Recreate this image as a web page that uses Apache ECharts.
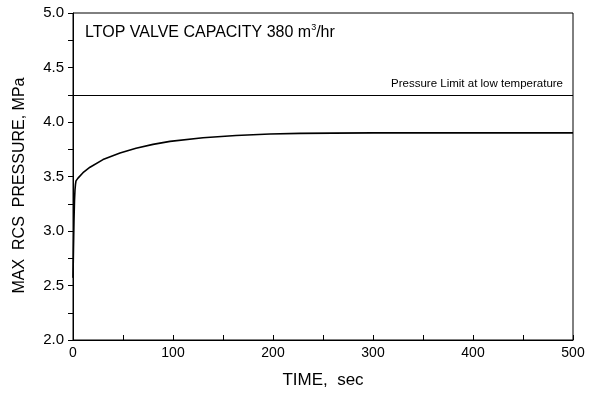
<!DOCTYPE html>
<html><head><meta charset="utf-8">
<script src="https://cdn.jsdelivr.net/npm/echarts@6/dist/echarts.min.js"></script>
<style>html,body{margin:0;padding:0;background:#fff}#c{width:599px;height:394px}</style>
</head><body><div id="c"></div>
<script>
var timeSec = [0, 0.5, 1, 1.5, 2, 2.5, 3, 4, 5, 10, 17, 30, 47, 63, 80, 97, 130, 163, 197, 227, 260, 300, 400, 500];
var maxPressure = [2.57, 2.85, 3.1, 3.28, 3.38, 3.43, 3.46, 3.475, 3.485, 3.535, 3.585, 3.655, 3.715, 3.76, 3.795, 3.822, 3.855, 3.876, 3.89, 3.896, 3.898, 3.9, 3.9, 3.9];
var pressureLimit = 4.25;
var limitLabel = 'Pressure Limit at low temperature';
var xTicks = [0, 100, 200, 300, 400, 500];
var yTicks = [2.0, 2.5, 3.0, 3.5, 4.0, 4.5, 5.0];

var font = 'Arial, "Liberation Sans", sans-serif';
var chart = echarts.init(document.getElementById('c'));
chart.setOption({
  animation: false,
  backgroundColor: '#fff',
  title: {
    left: 80, top: 18,
    text: '{a|LTOP VALVE CAPACITY 380 m}{s|3}{a|/hr}',
    textStyle: {
      rich: {
        a: {fontFamily: font, fontSize: 16, fontWeight: 'normal', color: '#000'},
        s: {fontFamily: font, fontSize: 9, fontWeight: 'normal', color: '#000', verticalAlign: 'top', padding: [0, 0, 10, 0]}
      }
    }
  },
  grid: {left: 73, right: 26, top: 13, bottom: 51, show: true, borderColor: '#000', borderWidth: 1, backgroundColor: 'transparent'},
  xAxis: {
    type: 'value', min: xTicks[0], max: xTicks[xTicks.length - 1], interval: 100,
    name: 'TIME,  sec', nameLocation: 'middle', nameGap: 32,
    nameTextStyle: {fontFamily: font, fontSize: 17, color: '#000'},
    axisLine: {lineStyle: {color: '#000', width: 1}},
    axisTick: {inside: true, length: 5, lineStyle: {color: '#000'}},
    minorTick: {show: true, splitNumber: 2, length: 5, lineStyle: {color: '#000'}},
    axisLabel: {fontFamily: font, fontSize: 14, color: '#000', margin: 6},
    splitLine: {show: false}
  },
  yAxis: {
    type: 'value', min: yTicks[0], max: yTicks[yTicks.length - 1], interval: 0.5,
    name: 'MAX  RCS  PRESSURE, MPa', nameLocation: 'middle', nameGap: 45,
    nameTextStyle: {fontFamily: font, fontSize: 16, color: '#000', padding: [0, 18, 0, 0]},
    axisLine: {show: true, lineStyle: {color: '#000', width: 1}},
    axisTick: {show: true, inside: false, length: 5, lineStyle: {color: '#000'}},
    minorTick: {show: true, splitNumber: 2, length: 5, lineStyle: {color: '#000'}},
    axisLabel: {fontFamily: font, fontSize: 15, color: '#000', margin: 9, formatter: function (v) { return v.toFixed(1); }},
    splitLine: {show: false}
  },
  series: [{
    type: 'line',
    data: timeSec.map(function (t, i) { return [t, maxPressure[i]]; }),
    showSymbol: false, smooth: false,
    lineStyle: {color: '#000', width: 1.6, join: 'round'},
    markLine: {
      silent: true, symbol: 'none',
      lineStyle: {color: '#000', width: 1, type: 'solid'},
      label: {show: true, position: 'insideEndTop', formatter: limitLabel, fontFamily: font, fontSize: 11.5, color: '#000', distance: [10, 5]},
      data: [{yAxis: pressureLimit}]
    }
  }]
});
</script></body></html>
